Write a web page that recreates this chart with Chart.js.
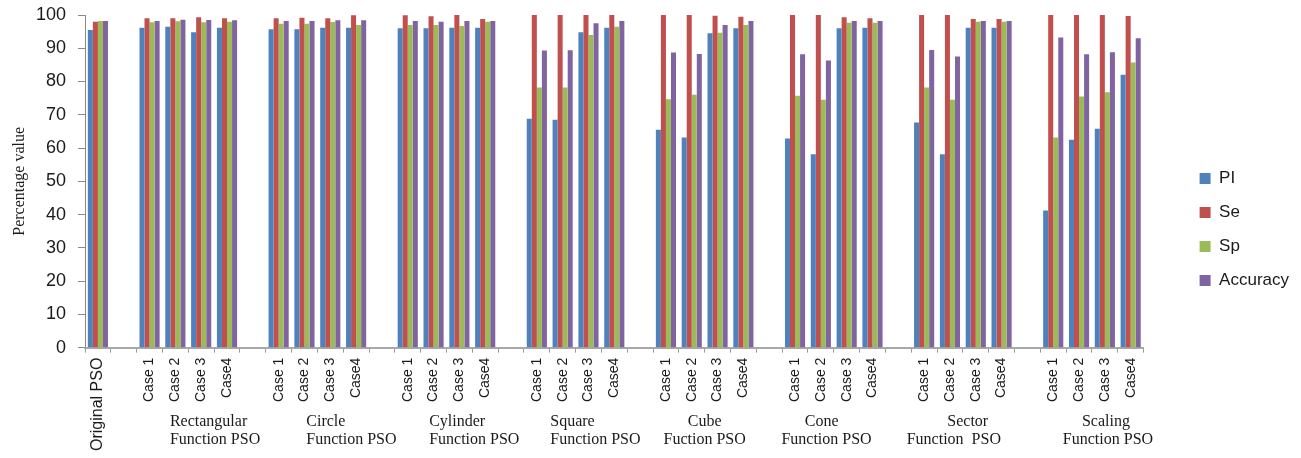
<!DOCTYPE html>
<html>
<head>
<meta charset="utf-8">
<script src="https://cdn.jsdelivr.net/npm/chart.js@4.4.0/dist/chart.umd.min.js"></script>
<style>
  body { margin: 0; background: #fff; }
  #wrap { width: 1301px; height: 458px; position: relative; }
</style>
</head>
<body>
<div id="wrap"><canvas id="PsoChart"></canvas></div>
<script>
// categories
const firstLabel = 'Original PSO'
const caseLabels = ['Case 1', 'Case 2', 'Case 3', 'Case4']
const groupNames = [
  ['Rectangular', 'Function PSO'],
  ['Circle', 'Function PSO'],
  ['Cylinder', 'Function PSO'],
  ['Square', 'Function PSO'],
  ['Cube', 'Fuction PSO'],
  ['Cone', 'Function PSO'],
  ['Sector', 'Function  PSO'],
  ['Scaling', 'Function PSO']
]

// series values: Original PSO first, then 4 cases per group
const piValues = [
  95.5,
  96.2, 96.5, 94.8, 96.2,
  95.7, 95.7, 96.2, 96.2,
  96.0, 96.0, 96.2, 96.2,
  68.8, 68.5, 94.8, 96.2,
  65.5, 63.2, 94.5, 96.0,
  62.9, 58.1, 96.0, 96.2,
  67.7, 58.1, 96.2, 96.2,
  41.2, 62.5, 65.8, 82.0
]
const seValues = [
  98.0,
  99.0, 99.0, 99.3, 99.0,
  99.0, 99.2, 99.0, 99.9,
  99.9, 99.6, 100, 98.8,
  100, 100, 100, 100,
  100, 100, 99.8, 99.5,
  100, 100, 99.3, 99.0,
  100, 100, 98.8, 98.8,
  100, 100, 100, 99.7
]
const spValues = [
  98.2,
  97.8, 98.1, 97.8, 98.0,
  97.4, 97.4, 97.9, 97.0,
  97.0, 97.0, 96.7, 98.0,
  78.2, 78.2, 94.0, 96.5,
  74.7, 76.0, 94.7, 97.0,
  75.7, 74.5, 97.7, 97.7,
  78.2, 74.5, 98.0, 98.0,
  63.2, 75.5, 76.8, 85.7
]
const accValues = [
  98.2,
  98.2, 98.6, 98.5, 98.4,
  98.2, 98.2, 98.4, 98.4,
  98.2, 98.0, 98.2, 98.2,
  89.3, 89.4, 97.5, 98.2,
  88.7, 88.3, 97.0, 98.2,
  88.2, 86.3, 98.2, 98.2,
  89.5, 87.5, 98.2, 98.2,
  93.2, 88.2, 88.8, 93.0
]
const yTicks = [0, 10, 20, 30, 40, 50, 60, 70, 80, 90, 100]

// label placement under each group, in category widths from group centre
const groupLabelShift = [
  [-0.71, -0.71], [-0.43, -0.43], [-0.67, -0.67], [-0.98, -0.98],
  [0, 0], [-0.47, -0.28], [0.19, -0.35], [0.54, 0.62]
]
const groupLabelAlign = ['left', 'left', 'left', 'left', 'center', 'center', 'center', 'center']

// build the category axis with one empty slot before each group
const labels = [firstLabel]
const groupStart = []
groupNames.forEach(() => {
  labels.push('')
  groupStart.push(labels.length)
  caseLabels.forEach(c => labels.push(c))
})

function spread(values) {
  const out = [values[0]]
  let k = 1
  groupNames.forEach(() => {
    out.push(null)
    caseLabels.forEach(() => out.push(values[k++]))
  })
  return out
}

const groupLabelPlugin = {
  id: 'groupLabels',
  afterDraw(chart) {
    const { ctx, chartArea } = chart
    const x = chart.scales.x
    const slot = x.getPixelForValue(1) - x.getPixelForValue(0)
    ctx.save()
    ctx.font = '16px "Liberation Serif", "Times New Roman", serif'
    ctx.fillStyle = '#1a1a1a'
    ctx.textBaseline = 'middle'
    groupNames.forEach((lines, g) => {
      const s = groupStart[g]
      const centre = (x.getPixelForValue(s) + x.getPixelForValue(s + 3)) / 2
      ctx.textAlign = groupLabelAlign[g]
      lines.forEach((line, i) => {
        ctx.fillText(line, centre + groupLabelShift[g][i] * slot, chartArea.bottom + 74 + i * 18)
      })
    })
    ctx.restore()
  }
}

// nudge the legend block up a little, it sits slightly above the middle
const legendNudge = {
  id: 'legendNudge',
  afterLayout(chart) {
    if (!chart.legend) return
    chart.legend.top -= 6
    chart.legend.bottom -= 6
  }
}

const seriesColors = ['#4f81bd', '#c0504d', '#9bbb59', '#8064a2']
const seriesNames = ['PI', 'Se', 'Sp', 'Accuracy']
const seriesValues = [piValues, seValues, spValues, accValues]

new Chart(document.getElementById('PsoChart'), {
  type: 'bar',
  data: {
    labels: labels,
    datasets: seriesNames.map((name, i) => ({
      label: name,
      data: spread(seriesValues[i]),
      backgroundColor: seriesColors[i],
      borderWidth: 0,
      categoryPercentage: 0.78,
      barPercentage: 1.0
    }))
  },
  options: {
    responsive: true,
    maintainAspectRatio: false,
    animation: false,
    layout: { padding: { top: 15, right: 2, bottom: 2, left: 0 } },
    plugins: {
      tooltip: { enabled: false },
      legend: {
        position: 'right',
        labels: {
          boxWidth: 11,
          boxHeight: 11,
          padding: 17,
          color: '#1a1a1a',
          font: { family: '"Liberation Sans", Arial, sans-serif', size: 17 }
        }
      }
    },
    scales: {
      x: {
        grid: { drawOnChartArea: false, tickLength: 5, color: '#9a9a9a' },
        border: { color: '#a8a8a8', width: 2 },
        ticks: {
          autoSkip: false,
          minRotation: 90,
          maxRotation: 90,
          padding: 5,
          color: '#1a1a1a',
          font: ctx => ({
            family: '"Liberation Sans", Arial, sans-serif',
            size: ctx.index === 0 ? 16 : 14
          })
        }
      },
      y: {
        min: 0,
        max: 100,
        afterBuildTicks: scale => {
          scale.ticks = yTicks.map(v => ({ value: v }))
        },
        afterFit: scale => {
          scale.width = 85
          scale.paddingTop = 0
          scale.paddingBottom = 0
        },
        grid: { drawOnChartArea: false, tickLength: 7, color: '#8a8a8a' },
        border: { color: '#8a8a8a' },
        ticks: {
          padding: 12,
          color: '#1a1a1a',
          font: { family: '"Liberation Sans", Arial, sans-serif', size: 18 }
        },
        title: {
          display: true,
          text: 'Percentage value',
          color: '#1a1a1a',
          padding: { top: 10, bottom: 4 },
          font: { family: '"Liberation Serif", "Times New Roman", serif', size: 16 }
        }
      },
      gap: {
        position: 'right',
        display: true,
        grid: { display: false },
        border: { display: false },
        ticks: { display: false },
        afterFit: scale => {
          scale.width = 39
          scale.paddingTop = 0
          scale.paddingBottom = 0
        }
      }
    }
  },
  plugins: [groupLabelPlugin, legendNudge]
})
</script>
</body>
</html>
